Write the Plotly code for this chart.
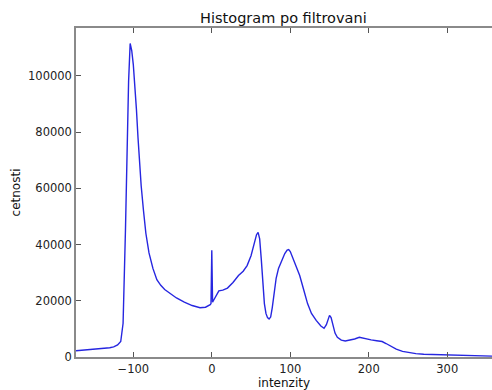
import plotly.graph_objects as go

intensity = [-173, -160, -145, -130, -125, -120, -116, -113, -110, -108, -106, -104, -102, -100,
             -98, -96, -94, -92, -90, -87, -84, -80, -75, -70, -65, -60, -54, -45, -35, -25, -15,
             -8, -2, -1, 0, 1, 2, 5, 9, 14, 20, 27, 34, 40, 45, 50, 54, 57, 59, 61, 63, 65, 67,
             69, 71, 73, 75, 77, 79, 82, 85, 89, 93, 96, 98, 100, 103, 107, 112, 117, 122, 127,
             133, 139, 143, 146, 148, 150, 152, 154, 157, 160, 165, 170, 175, 182, 188, 195, 203,
             210, 217, 222, 228, 235, 243, 250, 260, 270, 280, 295, 310, 325, 340, 357]
counts = [2200, 2500, 2900, 3300, 3600, 4300, 5500, 12000, 45000, 75000, 98000, 111500, 109000, 104000,
          97000, 88000, 78000, 69000, 61000, 52000, 44000, 37000, 31500, 27500, 25500, 24000, 22800,
          21000, 19500, 18300, 17500, 17700, 18600, 19000, 38000, 19500, 20000, 21500, 23500, 23800,
          24500, 26500, 29000, 30500, 32500, 36000, 40000, 43500, 44300, 42000, 35000, 26000, 19000,
          15500, 14000, 13500, 14200, 17500, 22500, 28000, 31500, 34500, 36800, 38000, 38200, 37500,
          35500, 33000, 29000, 24000, 19000, 15500, 13000, 11000, 10200, 11500, 13500, 14800, 14000,
          11500, 8500, 7000, 6000, 5700, 5900, 6400, 7000, 6500, 6100, 5800, 5500, 4800, 3800, 2800,
          2000, 1600, 1200, 1000, 900, 700, 550, 450, 350, 300]

x_ticks = [-100, 0, 100, 200, 300]
y_ticks = [0, 20000, 40000, 60000, 80000, 100000]

fig = go.Figure(go.Scatter(x=intensity, y=counts, mode="lines",
                           line=dict(color="#2626e0", width=1.4)))

axis_common = dict(showgrid=False, zeroline=False, showline=True,
                   linecolor="#8a8a8a", linewidth=1.5, ticks="inside", ticklen=5,
                   tickcolor="#555", automargin=False,
                   tickfont=dict(family="DejaVu Sans", size=11.5, color="#222"))

fig.update_layout(
    width=492, height=390,
    margin=dict(l=76, r=0, t=28, b=33),
    paper_bgcolor="white", plot_bgcolor="white",
    showlegend=False,
    font=dict(family="DejaVu Sans", color="#111"),
    title=dict(text="Histogram po filtrovani", x=0.576, xanchor="center", y=0.955, yanchor="middle",
               font=dict(family="DejaVu Sans", size=14.5, color="#111")),
    xaxis=dict(range=[-173, 357], tickvals=x_ticks, ticktext=[str(v).replace("-", "\u2212") for v in x_ticks],
               mirror="ticks",
               title=dict(text="intenzity", standoff=3, font=dict(size=12)), **axis_common),
    yaxis=dict(range=[0, 117000], tickvals=y_ticks, tickformat="d", mirror=False,
               title=dict(text="cetnosti", standoff=5, font=dict(size=12)), **axis_common),
)

fig.write_html("out.html", config={"displayModeBar": False},
               post_script="document.body.style.margin='0';document.body.style.overflow='hidden';")
